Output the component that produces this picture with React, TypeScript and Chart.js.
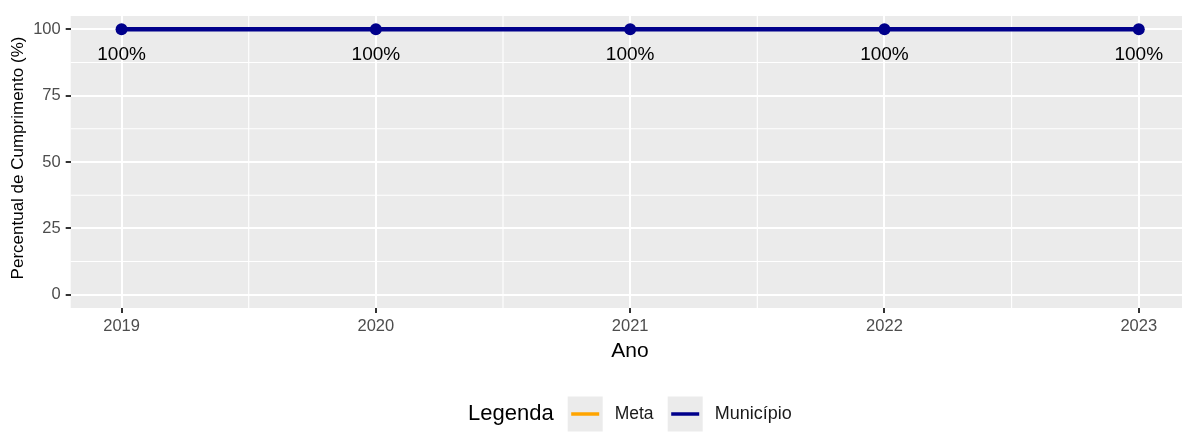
import React, { useEffect, useRef } from "react";
import { Chart, registerables } from "chart.js";

Chart.register(...registerables);

const years = [2019, 2020, 2021, 2022, 2023];
const municipio = [100, 100, 100, 100, 100];
const meta = [100, 100, 100, 100, 100];
const yTicks = [0, 25, 50, 75, 100];
const yMinor = [12.5, 37.5, 62.5, 87.5];
const xMinor = [2019.5, 2020.5, 2021.5, 2022.5];
const legendItems = [
  { label: "Meta", color: "#FFA500" },
  { label: "Município", color: "#00008B" },
];

const FONT = "'Liberation Sans', Arial, Helvetica, sans-serif";

export default function App() {
  const ref = useRef<HTMLCanvasElement>(null);

  useEffect(() => {
    document.body.style.margin = "0";
    const canvas = ref.current!;
    const panelPlugin = {
      id: "panel",
      beforeDraw(chart: any) {
        const { ctx, chartArea: a, scales } = chart;
        ctx.save();
        ctx.fillStyle = "#EBEBEB";
        ctx.fillRect(a.left, a.top, a.right - a.left, a.bottom - a.top);
        ctx.strokeStyle = "#FFFFFF";
        ctx.lineWidth = 1.1;
        for (const v of yMinor) {
          const y = scales.y.getPixelForValue(v);
          ctx.beginPath();
          ctx.moveTo(a.left, y);
          ctx.lineTo(a.right, y);
          ctx.stroke();
        }
        for (const v of xMinor) {
          const x = scales.x.getPixelForValue(v);
          ctx.beginPath();
          ctx.moveTo(x, a.top);
          ctx.lineTo(x, a.bottom);
          ctx.stroke();
        }
        ctx.restore();
      },
      afterDraw(chart: any) {
        const { ctx } = chart;
        ctx.save();
        // data labels
        const metaM = chart.getDatasetMeta(1);
        ctx.fillStyle = "#000000";
        ctx.font = `19px ${FONT}`;
        ctx.textAlign = "center";
        ctx.textBaseline = "alphabetic";
        metaM.data.forEach((pt: any, i: number) => {
          ctx.fillText(`${municipio[i]}%`, pt.x, pt.y + 30.5);
        });
        // axis titles
        ctx.font = `21px ${FONT}`;
        ctx.fillText("Ano", 630, 356.5);
        ctx.save();
        ctx.translate(22.5, 158);
        ctx.rotate(-Math.PI / 2);
        ctx.font = `17px ${FONT}`;
        ctx.textAlign = "center";
        ctx.fillText("Percentual de Cumprimento (%)", 0, 0);
        ctx.restore();
        // legend
        ctx.textAlign = "left";
        ctx.textBaseline = "middle";
        ctx.font = `22px ${FONT}`;
        ctx.fillStyle = "#000000";
        const cy = 414;
        ctx.fillText("Legenda", 468, cy);
        const boxes = [567.7, 667.7];
        const sizes = [17.5, 18];
        legendItems.forEach((it, i) => {
          const bx = boxes[i];
          ctx.fillStyle = "#EBEBEB";
          ctx.fillRect(bx, cy - 17.5, 35, 35);
          ctx.strokeStyle = it.color;
          ctx.lineWidth = 3.5;
          ctx.beginPath();
          ctx.moveTo(bx + 3.5, cy);
          ctx.lineTo(bx + 31.5, cy);
          ctx.stroke();
          ctx.fillStyle = "#1A1A1A";
          ctx.font = `${sizes[i]}px ${FONT}`;
          ctx.fillText(it.label, bx + 47, cy);
        });
        ctx.restore();
      },
    };

    const chart = new Chart(canvas, {
      type: "line",
      data: {
        datasets: [
          {
            label: "Meta",
            data: years.map((x, i) => ({ x, y: meta[i] })),
            borderColor: "#FFA500",
            backgroundColor: "#FFA500",
            borderWidth: 3,
            pointRadius: 0,
            order: 2,
          },
          {
            label: "Município",
            data: years.map((x, i) => ({ x, y: municipio[i] })),
            borderColor: "#00008B",
            backgroundColor: "#00008B",
            borderWidth: 4.5,
            pointRadius: 6,
            pointBorderWidth: 0,
            order: 1,
          },
        ],
      },
      options: {
        responsive: false,
        animation: false,
        devicePixelRatio: 1,
        layout: { autoPadding: false, padding: { top: 16, left: 0, right: 0, bottom: 0 } },
        plugins: { legend: { display: false }, tooltip: { enabled: false } },
        scales: {
          x: {
            type: "linear",
            min: 2018.8,
            max: 2023.17,
            afterBuildTicks: (axis: any) => {
              axis.ticks = years.map((v) => ({ value: v }));
            },
            afterFit: (s: any) => {
              s.height = 139;
              s.paddingLeft = 0;
              s.paddingRight = 0;
            },
            ticks: {
              color: "#4D4D4D",
              font: { family: FONT, size: 16.5 },
              padding: 4,
              maxRotation: 0,
              callback: (v: any) => String(v),
            },
            grid: {
              color: "#FFFFFF",
              lineWidth: 2,
              tickColor: "#333333",
              tickLength: 5,
              tickWidth: 2,
            },
            border: { display: false },
          },
          y: {
            min: -5,
            max: 105,
            afterBuildTicks: (axis: any) => {
              axis.ticks = yTicks.map((v) => ({ value: v }));
            },
            afterFit: (s: any) => {
              s.width = 70.7;
              s.paddingTop = 0;
              s.paddingBottom = 0;
            },
            ticks: {
              color: "#4D4D4D",
              font: { family: FONT, size: 16.5 },
              padding: 5,
              callback: (v: any) => String(v),
            },
            grid: {
              color: "#FFFFFF",
              lineWidth: 2,
              tickColor: "#333333",
              tickLength: 5,
              tickWidth: 2,
            },
            border: { display: false },
          },
        },
      },
      plugins: [panelPlugin],
    });
    return () => chart.destroy();
  }, []);

  return (
    <div style={{ width: 1182, height: 447, background: "#FFFFFF" }}>
      <canvas ref={ref} width={1182} height={447} />
    </div>
  );
}
